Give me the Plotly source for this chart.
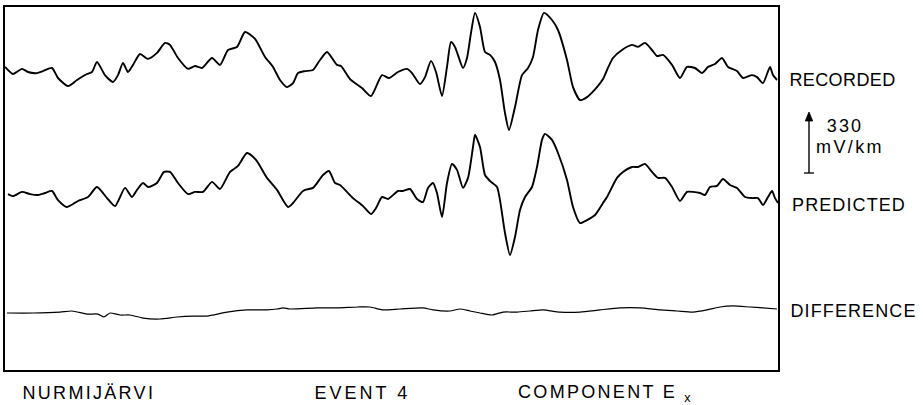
import plotly.graph_objects as go

# Time samples (arbitrary units along the record)
t_recorded = [5,13,22,28,37,43,52,58,68,77,87,92,97,105,113,118,123,128,133,140,148,157,165,170,178,188,195,202,212,220,228,237,245,255,265,273,280,287,293,298,305,
              313,320,327,337,341,350,362,371,382,389,398,407,412,420,425,431,436,442,447,451,455,463,467,471,475,480,485,490,495,500,505,509,515,522,528,533,538,544,552,558,567,573,580,587,597,603,
              607,613,622,632,638,645,652,657,663,672,680,687,695,702,708,715,722,728,737,743,752,757,763,770,773,777]
recorded = [17,-22,6,-11,-17,-6,11,-44,-88,-55,-22,-11,44,-28,-66,-28,39,-11,28,88,61,94,149,138,66,6,22,11,66,28,110,127,209,171,72,17,-55,-94,-72,-17,-6,
            0,55,99,28,22,-50,-99,-143,-28,-44,-11,6,-17,-77,-39,50,-11,-143,17,154,127,11,66,204,314,237,99,83,44,-55,-237,-330,-204,-28,11,72,220,314,275,220,55,-94,-165,-149,-94,-50,
            0,66,110,138,127,149,110,77,83,28,-44,17,11,-17,17,33,66,17,-6,-44,-28,-39,-72,17,-28,-55]

t_predicted = [8,13,22,30,38,45,52,58,67,78,88,97,107,115,125,132,137,143,148,157,164,170,178,188,195,203,212,220,230,238,247,256,267,277,288,293,302,
               305,313,323,329,335,340,353,363,371,376,382,388,398,403,410,417,423,428,433,437,442,447,452,457,463,468,473,475,480,485,490,497,500,505,510,515,520,525,532,537,542,545,552,558,567,573,580,587,595,603,
               607,617,623,632,638,645,652,658,665,672,680,687,693,700,705,710,717,723,730,737,745,752,758,763,768,772,775,778]
predicted = [-6,-17,6,-6,-11,0,11,-39,-77,-44,-22,33,-28,-72,28,-22,17,55,33,55,116,116,55,-6,6,6,61,22,116,149,220,182,83,17,-77,-55,6,
             17,28,99,121,55,44,-28,-72,-116,-83,-22,-33,11,11,22,-33,-50,28,55,0,-132,55,160,127,28,83,253,319,253,99,66,33,-39,-220,-341,-242,-94,-22,33,143,292,325,292,220,72,-77,-165,-149,-121,-55,
             -22,83,116,143,143,160,116,83,83,33,-44,6,6,0,-11,33,39,77,44,28,-22,-28,-28,-66,-22,11,-28,-55]

t_difference = [7,33,60,72,87,98,104,110,120,130,143,160,177,193,207,227,247,267,277,283,290,317,337,358,370,383,400,423,433,450,460,470,480,492,503,517,530,543,560,580,600,620,640,660,677,693,707,720,733,750,763,777]
difference = [-11,-11,-6,0,-17,-17,-33,-11,-22,-22,-39,-44,-33,-28,-28,-6,6,6,11,17,11,17,17,22,22,6,11,17,6,0,11,0,-11,-22,-6,-6,0,6,-6,-6,6,17,17,6,0,-6,6,22,28,22,17,11]

trace_names = ["RECORDED", "PREDICTED", "DIFFERENCE"]
scale_value = "330"
scale_unit = "mV/km"
footer_labels = ["NURMIJÄRVI", "EVENT 4", "COMPONENT E <sub>x</sub>"]

# vertical offsets (mV/km) used to stack the three traces
off_rec, off_pred, off_diff = 1650, 973.5, 324.5

fig = go.Figure()
fig.add_trace(go.Scatter(x=t_recorded, y=[v + off_rec for v in recorded], mode="lines",
                         line=dict(color="black", width=1.9, shape="spline", smoothing=0.6), hoverinfo="skip"))
fig.add_trace(go.Scatter(x=t_predicted, y=[v + off_pred for v in predicted], mode="lines",
                         line=dict(color="black", width=1.9, shape="spline", smoothing=0.6), hoverinfo="skip"))
fig.add_trace(go.Scatter(x=t_difference, y=[v + off_diff for v in difference], mode="lines",
                         line=dict(color="black", width=1.2, shape="spline", smoothing=0.6), hoverinfo="skip"))

font_family = "Liberation Sans, Arial, sans-serif"
fs = 18
ann = []
spacing = []
label_pos = [(1.0137, 0.799, 0.4), (1.0220, 0.4545, 1.1), (1.0213, 0.1625, 1.1)]
for name, (px, py, sp) in zip(trace_names, label_pos):
    ann.append(dict(text=name, xref="paper", yref="paper", x=px, y=py, xanchor="left", yanchor="middle",
                    showarrow=False, font=dict(size=fs, color="black", family=font_family)))
    spacing.append(sp)
ann.append(dict(text=scale_value, xref="paper", yref="paper", x=1.0651, y=0.672, xanchor="left", yanchor="middle",
                showarrow=False, font=dict(size=fs, color="black", family=font_family)))
spacing.append(2.2)
ann.append(dict(text=scale_unit, xref="paper", yref="paper", x=1.0543, y=0.614, xanchor="left", yanchor="middle",
                showarrow=False, font=dict(size=fs, color="black", family=font_family)))
spacing.append(2.4)
for txt, px, sp in zip(footer_labels, [0.0343, 0.4120, 0.6805], [2.3, 3.0, 2.3]):
    ann.append(dict(text=txt, xref="paper", yref="paper", x=px, y=-0.0634, xanchor="left", yanchor="middle",
                    showarrow=False, font=dict(size=fs, color="black", family=font_family)))
    spacing.append(sp)

shapes = [
    # scale bar shaft, bottom tick and arrow head
    dict(type="line", xref="paper", yref="paper", x0=1.0401, x1=1.0401, y0=0.5427, y1=0.6900,
         line=dict(color="black", width=1.4)),
    dict(type="line", xref="paper", yref="paper", x0=1.0336, x1=1.0466, y0=0.5427, y1=0.5427,
         line=dict(color="black", width=1.3)),
    dict(type="path", xref="paper", yref="paper",
         path="M 1.0401 0.7107 L 1.0353 0.6860 L 1.0449 0.6860 Z",
         fillcolor="black", line=dict(color="black", width=0.8)),
]

fig.update_layout(
    width=923, height=405,
    margin=dict(l=5, r=145, t=7, b=35, autoexpand=False),
    paper_bgcolor="white", plot_bgcolor="white",
    showlegend=False,
    annotations=ann,
    shapes=shapes,
)
fig.update_xaxes(range=[5, 778], showgrid=False, zeroline=False, showticklabels=False, ticks="",
                 showline=True, mirror=True, linecolor="black", linewidth=1.6)
fig.update_yaxes(range=[0, 1996.5], showgrid=False, zeroline=False, showticklabels=False, ticks="",
                 showline=True, mirror=True, linecolor="black", linewidth=1.6)

js = "document.body.style.margin='0px';document.body.style.overflow='hidden';"
js += "var sp=%s;" % str(spacing)
js += ("sp.forEach(function(s,i){document.querySelectorAll('g.annotation[data-index=\"'+i+'\"] text.annotation-text')"
       ".forEach(function(t){t.style.letterSpacing=s+'px';});});")

fig.write_html("out.html", config={"displayModeBar": False}, post_script=js)
